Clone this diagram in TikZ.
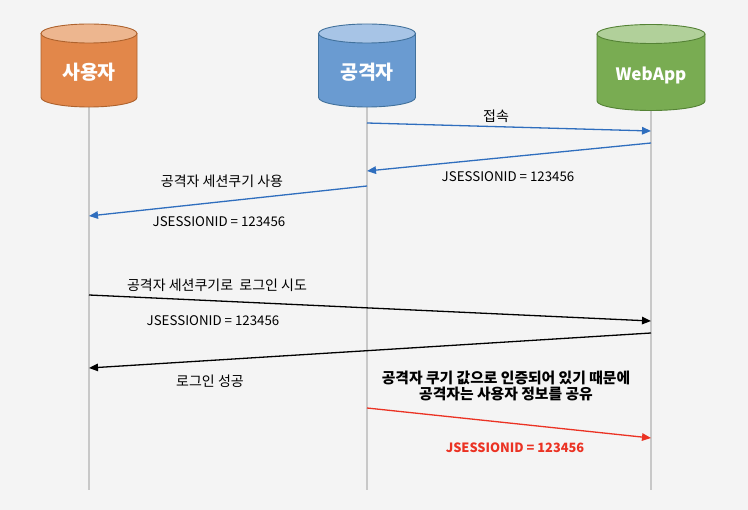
\documentclass[tikz,border=0pt]{standalone}
\usepackage{fontspec}
\newfontfamily\cjk{Noto Sans CJK KR}
\usetikzlibrary{arrows.meta}
\definecolor{bggray}{RGB}{244,244,244}
\definecolor{lifegray}{RGB}{200,200,200}
\definecolor{usrB}{RGB}{226,135,74}
\definecolor{usrT}{RGB}{237,182,143}
\definecolor{usrL}{RGB}{174,98,45}
\definecolor{attB}{RGB}{106,155,209}
\definecolor{attT}{RGB}{167,196,230}
\definecolor{attL}{RGB}{65,113,156}
\definecolor{webB}{RGB}{121,172,82}
\definecolor{webT}{RGB}{177,208,154}
\definecolor{webL}{RGB}{84,130,53}
\definecolor{msgblue}{RGB}{47,110,190}
\definecolor{msgred}{RGB}{235,50,35}
\begin{document}
\begin{tikzpicture}[x=1pt, y=-1pt,
		>={Triangle[length=9pt,width=7.5pt]},
		actor/.style={font=\cjk\bfseries\fontsize{19.5}{22}\selectfont, text=white},
		life/.style={draw=lifegray, line width=1.2pt},
		msg/.style={->, line width=1.3pt},
		lbl/.style={font=\cjk\fontsize{14}{16}\selectfont},
		idlbl/.style={font=\cjk\fontsize{13.3}{16}\selectfont}]
	% Hintergrund
	\fill[bggray] (0,0) rectangle (748,510);
	\useasboundingbox (0,0) rectangle (748,510);
	% Lebenslinien
	\coordinate (userTop) at (89,60);   \coordinate (userEnd) at (89,490);
	\coordinate (attTop) at (367,60);   \coordinate (attEnd) at (367,490);
	\coordinate (webTop) at (651,60);   \coordinate (webEnd) at (651,490);
	\draw[life] (userTop) -- (userEnd);
	\draw[life] (attTop) -- (attEnd);
	\draw[life] (webTop) -- (webEnd);
	% Zylinder zeichnen
	\foreach \x/\w/\t/\b/\cb/\ct/\cl in {89/48/33.5/97.5/usrB/usrT/usrL, 367/48.5/33.5/97.5/attB/attT/attL, 651/54/34/101/webB/webT/webL}{
		\fill[\cb] (\x-\w,\t) -- (\x-\w,\b) arc[start angle=180, end angle=0, x radius=\w, y radius=9.5] -- (\x+\w,\t) -- cycle;
		\draw[\cl, line width=0.9pt] (\x-\w,\t) -- (\x-\w,\b) arc[start angle=180, end angle=0, x radius=\w, y radius=9.5] -- (\x+\w,\t);
		\filldraw[fill=\ct, draw=\cl, line width=0.9pt] (\x,\t) ellipse [x radius=\w, y radius=9.5];
	}
	\node[actor] (user) at (89,72) {사용자};
	\node[actor] (att) at (367,72) {공격자};
	\node[actor, font=\cjk\bfseries\fontsize{17}{20}\selectfont] (web) at (651,75) {WebApp};
	% Nachrichten: Endpunkte
	\coordinate (m1s) at (367,123); \coordinate (m1e) at (651,131);
	\coordinate (m2s) at (651,143); \coordinate (m2e) at (367,171);
	\coordinate (m3s) at (367,186); \coordinate (m3e) at (89,216);
	\coordinate (m4s) at (89,295);  \coordinate (m4e) at (651,321);
	\coordinate (m5s) at (651,333); \coordinate (m5e) at (89,368);
	\coordinate (m6s) at (367,408); \coordinate (m6e) at (651,438);
	% Pfeile zeichnen
	\draw[msg, msgblue] (m1s) -- (m1e);
	\draw[msg, msgblue] (m2s) -- (m2e);
	\draw[msg, msgblue] (m3s) -- (m3e);
	\draw[msg, black] (m4s) -- (m4e);
	\draw[msg, black] (m5s) -- (m5e);
	\draw[msg, msgred] (m6s) -- (m6e);
	% Beschriftung
	\node[lbl] (l1) at (496,116) {접속};
	\node[idlbl] (l2) at (508,177) {JSESSIONID = 123456};
	\node[lbl] (l3) at (222,181) {공격자 세션쿠기 사용};
	\node[idlbl] (l3b) at (219,222) {JSESSIONID = 123456};
	\node[lbl] (l4) at (217,285) {공격자 세션쿠기로~~로그인 시도};
	\node[idlbl] (l4b) at (213,321) {JSESSIONID = 123456};
	\node[lbl] (l5) at (210,381) {로그인 성공};
	\node[lbl, font=\cjk\bfseries\fontsize{14.8}{15.5}\selectfont, align=center] (note) at (506,386) {공격자 쿠기 값으로 인증되어 있기 때문에\\공격자는 사용자 정보를 공유};
	\node[idlbl, font=\cjk\bfseries\fontsize{12.8}{15}\selectfont, text=msgred] (l6) at (515,448) {JSESSIONID = 123456};
\end{tikzpicture}
\end{document}
